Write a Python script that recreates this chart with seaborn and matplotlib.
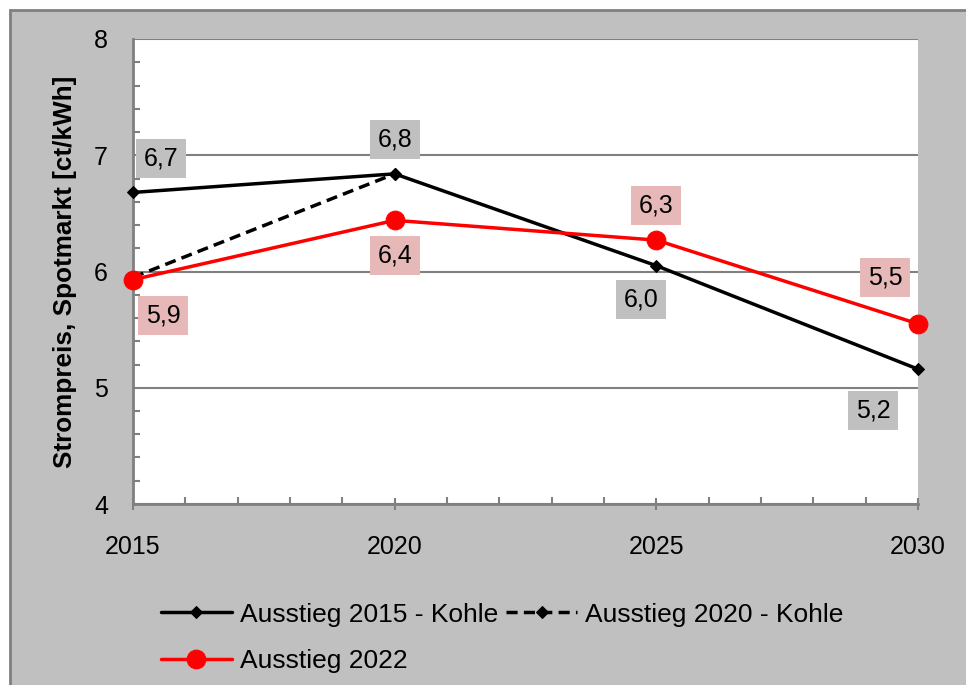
import matplotlib
matplotlib.use("Agg")
import matplotlib.pyplot as plt
import matplotlib.patches as patches
from matplotlib.ticker import MultipleLocator
import pandas as pd
import seaborn as sns

jahre = [2015, 2020, 2025, 2030]
ausstieg_2015 = [6.68, 6.84, 6.05, 5.16]
ausstieg_2020 = [5.95, 6.84]
ausstieg_2022 = [5.93, 6.44, 6.27, 5.55]
labels_2015 = ["6,7", "6,8", "6,0", "5,2"]
labels_2022 = ["5,9", "6,4", "6,3", "5,5"]

sns.set_style("white")
plt.rcParams["font.family"] = ["Liberation Sans", "DejaVu Sans"]
plt.rcParams["text.color"] = "black"
plt.rcParams["axes.labelcolor"] = "black"
plt.rcParams["xtick.color"] = "black"
plt.rcParams["ytick.color"] = "black"

fig = plt.figure(figsize=(9.66, 6.85), dpi=100, facecolor="white")
# grauer Diagrammhintergrund mit Rahmen
fig.patches.append(patches.Rectangle((10 / 966, -0.01), 1.0, (675 / 685) + 0.01,
                                     transform=fig.transFigure, facecolor="#c0c0c0",
                                     edgecolor="#808080", linewidth=2, zorder=-10))
ax = fig.add_axes([133 / 966, 1 - 504 / 685, (918 - 133) / 966, (504 - 39) / 685])
ax.set_facecolor("white")

df1 = pd.DataFrame({"Jahr": jahre, "Preis": ausstieg_2015})
df2 = pd.DataFrame({"Jahr": jahre[:2], "Preis": ausstieg_2020})
df3 = pd.DataFrame({"Jahr": jahre, "Preis": ausstieg_2022})

sns.lineplot(data=df2, x="Jahr", y="Preis", ax=ax, color="black", linewidth=2.5,
             linestyle=(0, (3.2, 1.8)), marker="D", markersize=6, markeredgecolor="black",
             label="Ausstieg 2020 - Kohle", zorder=3, clip_on=False)
sns.lineplot(data=df1, x="Jahr", y="Preis", ax=ax, color="black", linewidth=2.5,
             marker="D", markersize=6, markeredgecolor="black",
             label="Ausstieg 2015 - Kohle", zorder=4, clip_on=False)
sns.lineplot(data=df3, x="Jahr", y="Preis", ax=ax, color="#ff0000", linewidth=2.5,
             marker="o", markersize=13.5, markeredgecolor="#ff0000",
             label="Ausstieg 2022", zorder=5, clip_on=False)

off_2015 = [(28, 34), (0, 34), (-15, -34), (-45, -41)]
off_2022 = [(30, -36), (0, -35), (0, 35), (-33, 46)]
for x, y, t, o in zip(jahre, ausstieg_2015, labels_2015, off_2015):
    ax.annotate(t, (x, y), xytext=o, textcoords="offset pixels", ha="center", va="center",
                fontsize=18, bbox=dict(boxstyle="square,pad=0.3", fc="#c0c0c0", ec="none"),
                zorder=6, annotation_clip=False)
for x, y, t, o in zip(jahre, ausstieg_2022, labels_2022, off_2022):
    ax.annotate(t, (x, y), xytext=o, textcoords="offset pixels", ha="center", va="center",
                fontsize=18, bbox=dict(boxstyle="square,pad=0.3", fc="#e6b9b8", ec="none"),
                zorder=6, annotation_clip=False)

ax.set_xlim(2015, 2030)
ax.set_ylim(4, 8)
ax.xaxis.set_major_locator(MultipleLocator(5))
ax.xaxis.set_minor_locator(MultipleLocator(1))
ax.yaxis.set_major_locator(MultipleLocator(1))
ax.yaxis.set_minor_locator(MultipleLocator(0.2))
ax.yaxis.grid(True, which="major", color="#808080", linewidth=1.5)
ax.set_axisbelow(True)
ax.tick_params(which="both", bottom=True, left=True)
ax.tick_params(axis="x", which="major", direction="inout", length=8, width=1.5,
               color="#808080", labelcolor="black", labelsize=18, pad=18)
ax.tick_params(axis="x", which="minor", direction="in", length=5, width=1.5, color="#808080")
ax.tick_params(axis="y", which="major", direction="in", length=0, labelsize=18, pad=18,
               labelcolor="black")
ax.tick_params(axis="y", which="minor", direction="in", length=5, width=1.5, color="#808080")
for s in ["top", "right"]:
    ax.spines[s].set_visible(False)
for s in ["left", "bottom"]:
    ax.spines[s].set_color("#808080")
    ax.spines[s].set_linewidth(2)

ax.set_xlabel("")
ax.set_ylabel("Strompreis, Spotmarkt [ct/kWh]", fontsize=18.8, fontweight="bold", labelpad=12)

h, l = ax.get_legend_handles_labels()
order = [l.index("Ausstieg 2015 - Kohle"), l.index("Ausstieg 2022"), l.index("Ausstieg 2020 - Kohle")]
ax.legend([h[i] for i in order], [l[i] for i in order], ncol=2, frameon=False,
          loc="upper left", bbox_to_anchor=(150 / 966, 1 - 592 / 685),
          bbox_transform=fig.transFigure, fontsize=19, handlelength=2.7,
          handletextpad=0.3, columnspacing=0.3, labelspacing=0.85, borderaxespad=0)

fig.savefig("out.png", dpi=100, facecolor="white")
